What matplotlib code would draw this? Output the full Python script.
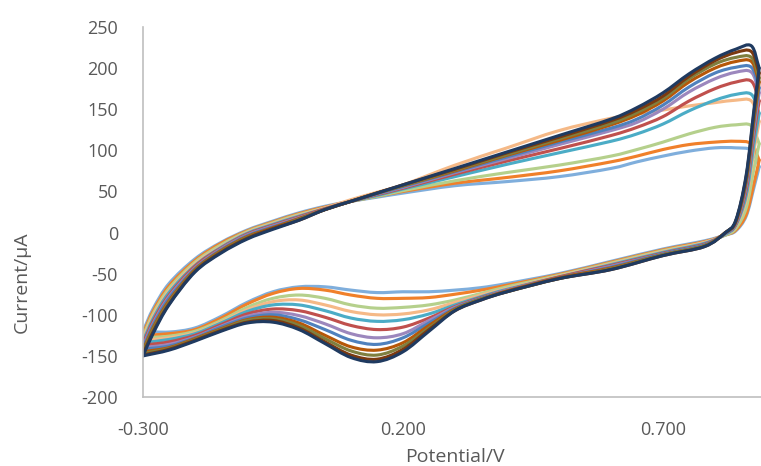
import matplotlib
matplotlib.use('Agg')
import matplotlib.pyplot as plt
from matplotlib.path import Path
from matplotlib.patches import PathPatch

# potential grids (V): forward (anodic) sweep and reverse (cathodic) sweep
x_fwd = [-0.30, -0.28, -0.25, -0.20, -0.15, -0.10, -0.05, 0.00, 0.05, 0.10, 0.15, 0.20,
         0.30, 0.40, 0.50, 0.60, 0.65, 0.70, 0.75, 0.80, 0.84, 0.87, 0.885]
x_rev = [0.885, 0.875, 0.86, 0.84, 0.82, 0.78, 0.70, 0.60, 0.50, 0.40, 0.35, 0.30,
         0.25, 0.20, 0.15, 0.10, 0.05, 0.00, -0.05, -0.10, -0.15, -0.20, -0.25, -0.30]

# current (uA) per cycle, innermost first
fwd = [
    [-120, -92, -62, -32, -12, 3, 14, 24, 32, 38, 43, 48, 57, 62, 68, 78, 86, 93, 99, 103, 103, 100, 80],
    [-123, -95, -65, -34, -13, 2, 13, 23, 31, 38, 44, 50, 60, 67, 75, 86, 93, 101, 107, 110, 111, 108, 88],
    [-126, -98, -68, -36, -15, 1, 12, 22, 30, 38, 44, 51, 63, 73, 82, 93, 101, 110, 120, 128, 131, 130, 108],
    [-129, -101, -71, -38, -17, 0, 11, 21, 30, 40, 49, 58, 82, 103, 124, 139, 144, 149, 154, 158, 161, 160, 135],
    [-132, -104, -73, -40, -18, -1, 10, 20, 29, 38, 45, 53, 68, 83, 97, 111, 120, 132, 148, 161, 168, 168, 145],
    [-135, -107, -76, -41, -19, -2, 9, 19, 29, 38, 46, 54, 71, 87, 102, 118, 128, 141, 160, 175, 183, 184, 160],
    [-138, -110, -78, -43, -20, -3, 8, 18, 28, 38, 47, 55, 73, 90, 107, 124, 134, 150, 171, 187, 195, 195, 170],
    [-140, -112, -80, -44, -21, -4, 7, 17, 28, 38, 47, 56, 74, 92, 110, 127, 138, 155, 177, 194, 201, 201, 176],
    [-143, -115, -83, -45, -22, -5, 6, 17, 28, 38, 48, 57, 75, 94, 112, 131, 143, 160, 183, 200, 208, 208, 183],
    [-145, -117, -85, -46, -23, -6, 5, 16, 28, 38, 48, 57, 76, 95, 114, 133, 146, 163, 187, 205, 213, 213, 188],
    [-148, -120, -87, -47, -24, -7, 5, 15, 28, 38, 48, 58, 77, 97, 116, 136, 149, 166, 190, 209, 219, 220, 194],
    [-150, -122, -88, -48, -25, -8, 4, 15, 28, 38, 48, 58, 78, 98, 118, 138, 152, 170, 193, 212, 223, 227, 200],
]
rev = [
    [80, 55, 20, 2, -3, -10, -20, -35, -50, -62, -67, -70, -72, -72, -73, -70, -66, -66, -72, -85, -102, -116, -121, -120],
    [88, 60, 22, 3, -3, -11, -21, -36, -51, -64, -70, -75, -79, -80, -80, -76, -70, -68, -74, -87, -104, -118, -123, -125],
    [108, 78, 30, 5, -3, -12, -22, -37, -52, -66, -74, -82, -88, -91, -92, -88, -80, -76, -80, -91, -107, -120, -126, -128],
    [135, 100, 40, 8, -2, -12, -23, -38, -53, -68, -76, -85, -94, -99, -100, -96, -88, -82, -84, -94, -109, -122, -128, -131],
    [145, 108, 45, 9, -2, -13, -24, -39, -54, -69, -78, -88, -99, -106, -108, -104, -95, -88, -88, -96, -110, -123, -130, -134],
    [160, 120, 52, 10, -1, -14, -25, -40, -54, -70, -79, -90, -104, -115, -118, -113, -103, -95, -93, -99, -112, -125, -133, -137],
    [170, 128, 57, 11, -1, -15, -26, -41, -55, -70, -80, -91, -107, -123, -128, -123, -111, -101, -97, -102, -114, -127, -136, -140],
    [176, 133, 60, 12, -1, -15, -26, -42, -55, -71, -80, -92, -110, -128, -136, -131, -118, -106, -100, -104, -115, -128, -138, -142],
    [183, 138, 63, 13, 0, -16, -27, -43, -55, -71, -81, -93, -113, -134, -143, -139, -125, -110, -103, -106, -117, -129, -140, -145],
    [188, 142, 66, 14, 0, -16, -27, -44, -56, -72, -81, -94, -116, -138, -149, -144, -129, -113, -105, -107, -118, -130, -141, -147],
    [194, 146, 68, 14, 0, -17, -28, -45, -56, -72, -82, -95, -118, -142, -154, -149, -133, -116, -107, -109, -119, -131, -142, -149],
    [200, 150, 70, 15, 0, -17, -28, -45, -56, -72, -82, -95, -120, -145, -157, -152, -135, -118, -109, -110, -120, -132, -143, -150],
]
colors = ['#7FAEDC', '#F0802A', '#B5D08C', '#F5B987', '#4BACC6', '#C0504D',
          '#9C87BD', '#4F81BD', '#B65708', '#7F7F3F', '#7B3A10', '#1F3A60']

x_ticks = [-0.3, 0.2, 0.7]
y_ticks = [-200, -150, -100, -50, 0, 50, 100, 150, 200, 250]


def smooth_path(xs, ys):
    # Excel-style smoothed line: cubic Bezier segments through the data points
    n = len(xs)
    verts = [(xs[0], ys[0])]
    codes = [Path.MOVETO]
    for i in range(n - 1):
        a = max(i - 1, 0)
        b = min(i + 2, n - 1)
        t0x = (xs[i + 1] - xs[a]) / (i + 1 - a)
        t0y = (ys[i + 1] - ys[a]) / (i + 1 - a)
        t1x = (xs[b] - xs[i]) / (b - i)
        t1y = (ys[b] - ys[i]) / (b - i)
        verts += [(xs[i] + t0x / 3, ys[i] + t0y / 3),
                  (xs[i + 1] - t1x / 3, ys[i + 1] - t1y / 3),
                  (xs[i + 1], ys[i + 1])]
        codes += [Path.CURVE4] * 3
    return Path(verts, codes)


plt.rcParams['font.family'] = ['Open Sans', 'DejaVu Sans']
plt.rcParams['axes.unicode_minus'] = False

fig = plt.figure(figsize=(7.61, 4.66), dpi=100)
ax = fig.add_axes([143 / 761, 69 / 466, 624 / 761, 370 / 466])

for i in range(len(fwd)):
    for xs, ys in [(x_fwd, fwd[i]), (x_rev, rev[i])]:
        ax.add_patch(PathPatch(smooth_path(xs, ys), fill=False, edgecolor=colors[i],
                               lw=2.25, capstyle='round', joinstyle='round'))

ax.set_xlim(-0.3, 0.9)
ax.set_ylim(-200, 250)
ax.set_xticks(x_ticks)
ax.set_xticklabels(['%.3f' % v for v in x_ticks])
ax.set_yticks(y_ticks)
ax.tick_params(length=0, labelsize=13, colors='#595959')
ax.tick_params(axis='y', pad=18)
ax.tick_params(axis='x', pad=17)
for s in ['top', 'right']:
    ax.spines[s].set_visible(False)
for s in ['left', 'bottom']:
    ax.spines[s].set_color('#BFBFBF')
    ax.spines[s].set_linewidth(1.2)

fig.text(455 / 761, 1 - 457 / 466, 'Potential/V', ha='center', va='center',
         fontsize=14, color='#595959')
fig.text(22 / 761, 1 - 282 / 466, 'Current/μA', ha='center', va='center',
         rotation=90, fontsize=14, color='#595959')

fig.savefig('out.png', dpi=100)
